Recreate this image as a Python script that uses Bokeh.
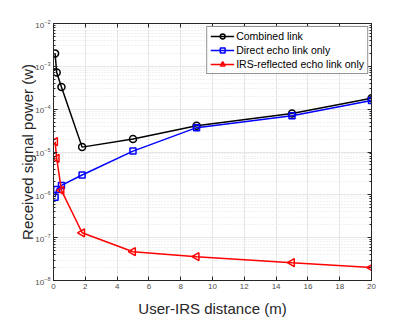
import math
from bokeh.plotting import figure
from bokeh.models import (Range1d, FixedTicker, LinearAxis, Legend, LegendItem,
                          CustomJSTickFormatter)
from bokeh.embed import file_html
from bokeh.resources import INLINE

# data
distance = [0.1, 0.2, 0.5, 1.8, 5, 9, 15, 20]
combined = [2.0e-3, 7.2e-4, 3.3e-4, 1.3e-5, 2.0e-5, 4.1e-5, 7.9e-5, 1.79e-4]
direct = [8.8e-7, 1.34e-6, 1.66e-6, 2.9e-6, 1.05e-5, 3.7e-5, 7.0e-5, 1.6e-4]
irs = [1.75e-5, 7.1e-6, 1.27e-6, 1.3e-7, 4.7e-8, 3.6e-8, 2.6e-8, 2.0e-8]
x_ticks = [0, 2, 4, 6, 8, 10, 12, 14, 16, 18, 20]
y_decades = [-8, -7, -6, -5, -4, -3, -2]

names = ["Combined link", "Direct echo link only", "IRS-reflected echo link only"]

y_major = [10.0 ** k for k in y_decades]
y_minor = [m * 10.0 ** k for k in y_decades[:-1] for m in range(2, 10)]

p = figure(width=409, height=319, output_backend="svg", toolbar_location=None,
           y_axis_type="log", x_range=Range1d(0, 20), y_range=Range1d(1e-8, 1e-2),
           min_border_left=53, min_border_top=23, min_border_right=38, min_border_bottom=36)
p.background_fill_color = "white"
p.border_fill_color = "white"
p.outline_line_color = "#262626"
p.outline_line_width = 1

xt = FixedTicker(ticks=x_ticks)
yt = FixedTicker(ticks=y_major, minor_ticks=y_minor)

p.xaxis.ticker = xt
p.yaxis.ticker = yt

for ax in [p.xaxis[0], p.yaxis[0]]:
    ax.axis_line_color = "#262626"
    ax.major_tick_line_color = "#262626"
    ax.minor_tick_line_color = "#262626"
    ax.major_tick_in = 4
    ax.major_tick_out = 0
    ax.minor_tick_in = 2
    ax.minor_tick_out = 0
    ax.major_label_text_font = "Liberation Sans"
    ax.major_label_text_font_size = "8px"
    ax.major_label_text_color = "#4d4d4d"
    ax.axis_label_text_font = "Liberation Sans"
    ax.axis_label_text_font_size = "15px"
    ax.axis_label_text_font_style = "normal"
    ax.axis_label_text_color = "#262626"
    ax.major_label_standoff = 3

p.xaxis.axis_label = "User-IRS distance (m)"
p.yaxis.axis_label = "Received signal power (w)"
p.xaxis.axis_label_standoff = 8
p.yaxis.axis_label_standoff = -4
p.xaxis[0].minor_tick_line_color = None

blank = CustomJSTickFormatter(code="return ' ';")
top = LinearAxis(ticker=xt, formatter=blank, major_label_text_font_size="1px", major_tick_in=4,
                 major_tick_out=0, minor_tick_line_color=None, axis_line_color="#262626",
                 major_tick_line_color="#262626", major_label_standoff=0)
right = LinearAxis(ticker=yt, formatter=blank, major_label_text_font_size="1px", major_tick_in=4,
                   major_tick_out=0, minor_tick_in=2, minor_tick_out=0, axis_line_color="#262626",
                   major_tick_line_color="#262626", minor_tick_line_color="#262626",
                   major_label_standoff=0)
p.add_layout(top, "above")
p.add_layout(right, "right")

p.xgrid.grid_line_color = "#e6e6e6"
p.ygrid.grid_line_color = "#e6e6e6"
p.ygrid.minor_grid_line_color = "#e3e3e3"
p.ygrid.minor_grid_line_dash = "1 2"

r1l = p.line(distance, combined, line_color="black", line_width=1.5)
r1m = p.scatter(distance, combined, marker="circle", size=7, line_color="black", fill_color=None, line_width=1.5)
r2l = p.line(distance, direct, line_color="blue", line_width=1.5)
r2m = p.scatter(distance, direct, marker="square", size=6, line_color="blue", fill_color=None, line_width=1.5)
r3l = p.line(distance, irs, line_color="red", line_width=1.5)
r3m = p.scatter(distance, irs, marker="triangle", angle=math.pi / 2, size=8, line_color="red",
                fill_color=None, line_width=1.5)

legend = Legend(items=[LegendItem(label=names[0], renderers=[r1l, r1m]),
                       LegendItem(label=names[1], renderers=[r2l, r2m]),
                       LegendItem(label=names[2], renderers=[r3l, r3m])],
                location="top_right")
legend.label_text_font = "Liberation Sans"
legend.label_text_font_size = "10.5px"
legend.label_text_color = "black"
legend.glyph_width = 24
legend.glyph_height = 12
legend.label_height = 12
legend.spacing = 2
legend.padding = 3
legend.margin = 3
legend.label_standoff = 2
legend.border_line_color = "#262626"
legend.border_line_width = 1
legend.background_fill_color = "white"
legend.background_fill_alpha = 1
p.add_layout(legend)

open("out.html", "w").write(file_html(p, INLINE))
